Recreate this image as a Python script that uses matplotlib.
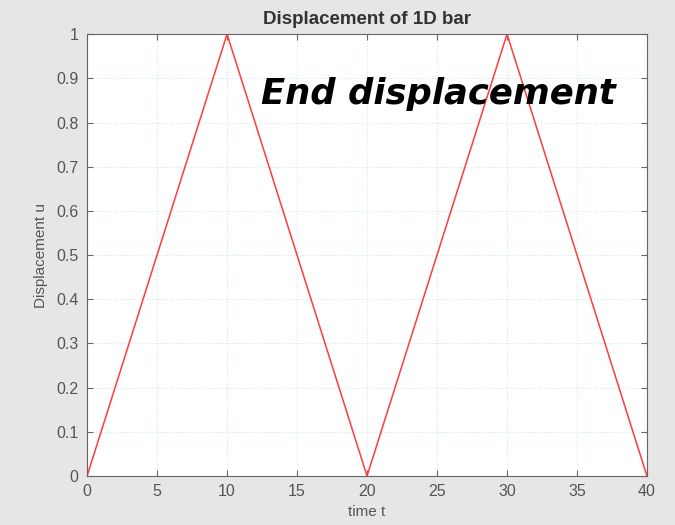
import numpy as np
import matplotlib.pyplot as plt

# end displacement of the 1D bar over time
t = [0, 10, 20, 30, 40]
u = [0, 1, 0, 1, 0]

x_ticks = [0, 5, 10, 15, 20, 25, 30, 35, 40]
y_ticks = [0, 0.1, 0.2, 0.3, 0.4, 0.5, 0.6, 0.7, 0.8, 0.9, 1]
y_labels = ['0', '0.1', '0.2', '0.3', '0.4', '0.5', '0.6', '0.7', '0.8', '0.9', '1']

plt.rcParams['font.family'] = ['Liberation Sans', 'DejaVu Sans']

fig = plt.figure(figsize=(6.75, 5.25), dpi=100, facecolor='#e6e6e6')
ax = fig.add_axes([0.129, 0.0933, 0.8295, 0.8417])
ax.set_facecolor('white')

ax.plot(t, u, color='#ff3b3b', linewidth=1.1)

ax.set_xlim(0, 40)
ax.set_ylim(0, 1)
ax.set_xticks(x_ticks)
ax.set_yticks(y_ticks)
ax.set_yticklabels(y_labels)
ax.grid(True, linestyle=':', color='#cfe9ec', linewidth=0.8)

ax.tick_params(direction='in', top=True, right=True, length=4,
               colors='#666666', labelcolor='#555555', labelsize=11.5, pad=6)
for s in ax.spines.values():
    s.set_color('#666666')

ax.set_title('Displacement of 1D bar', fontsize=13.5, fontweight='bold', color='#333333', pad=7)
ax.set_xlabel('time t', fontsize=11, color='#555555', labelpad=4)
ax.set_ylabel('Displacement u', fontsize=11, color='#555555', labelpad=6)

ax.text(0.31, 0.865, 'End displacement', transform=ax.transAxes,
        fontsize=25.5, fontstyle='italic', fontweight='bold', color='black',
        family='DejaVu Sans', va='center', ha='left')

fig.savefig('out.png', dpi=100, facecolor=fig.get_facecolor())
